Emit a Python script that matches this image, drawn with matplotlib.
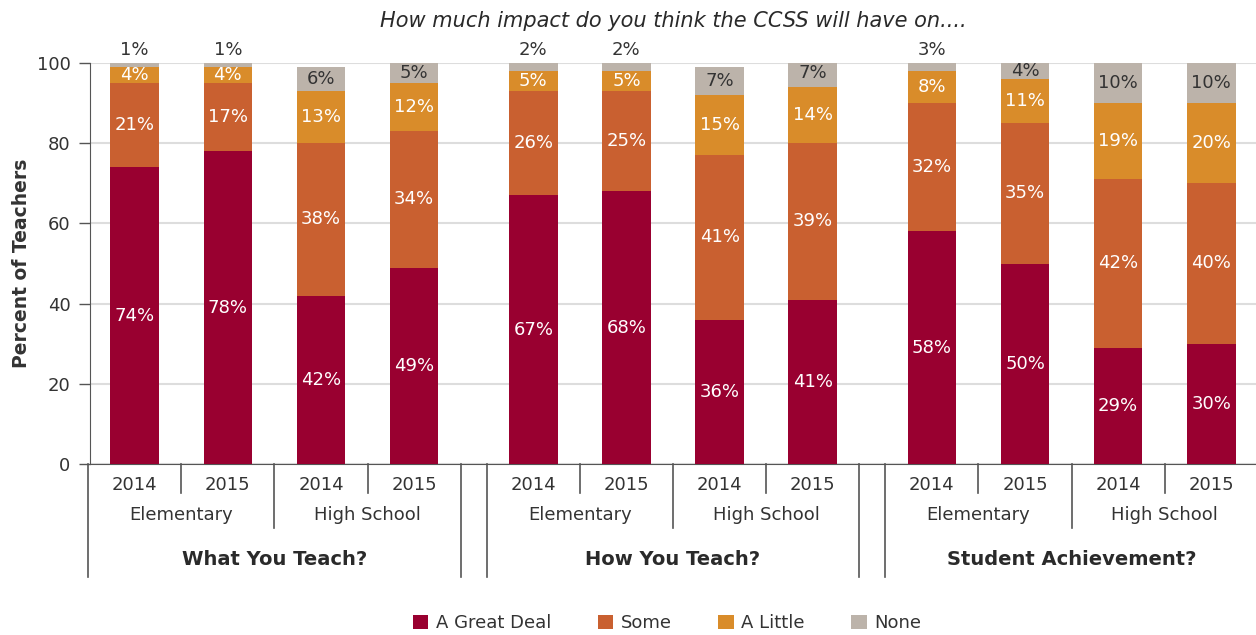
import matplotlib
matplotlib.use("Agg")
import matplotlib.pyplot as plt
import matplotlib.transforms as mtransforms
from matplotlib.patches import Patch
import numpy as np

plt.rcParams['font.family'] = ['DejaVu Sans']

# survey results, one entry per bar (3 questions x 2 levels x 2 years)
questions = ['What You Teach?', 'How You Teach?', 'Student Achievement?']
levels = ['Elementary', 'High School']
years = ['2014', '2015']

great_deal = [74, 78, 42, 49, 67, 68, 36, 41, 58, 50, 29, 30]
some = [21, 17, 38, 34, 26, 25, 41, 39, 32, 35, 42, 40]
a_little = [4, 4, 13, 12, 5, 5, 15, 14, 8, 11, 19, 20]
none = [1, 1, 6, 5, 2, 2, 7, 7, 3, 4, 10, 10]

series = [great_deal, some, a_little, none]
names = ['A Great Deal', 'Some', 'A Little', 'None']
colors = ['#990030', '#C96030', '#D98C2A', '#BCB3AA']
txt_colors = ['white', 'white', 'white', '#333333']

# bar positions: 4 bars per question, wider gap between questions
step = 1.0
gap = 1.28
x = []
for g in range(3):
    for i in range(4):
        x.append(g * (3 * step + gap) + i * step)
x = np.array(x)
width = 0.52

fig = plt.figure(figsize=(12.56, 6.35), dpi=100)
ax = fig.add_axes([90 / 1256, 1 - 464 / 635, 1166 / 1256, 401 / 635])

bottom = np.zeros(len(x))
for vals, col, tc in zip(series, colors, txt_colors):
    vals = np.array(vals, dtype=float)
    ax.bar(x, vals, width=width, bottom=bottom, color=col, zorder=3)
    for xi, b, v in zip(x, bottom, vals):
        if v >= 4:
            ax.text(xi, b + v / 2, '%d%%' % v, ha='center', va='center',
                    color=tc, fontsize=13, zorder=4)
        else:
            top = min(b + v, 100)
            ax.annotate('%d%%' % v, (xi, top), xytext=(0, 3),
                        textcoords='offset points', ha='center', va='bottom',
                        color='#333333', fontsize=13, annotation_clip=False)
    bottom += vals

ax.set_ylim(0, 100)
ax.set_xlim(x[0] - 0.48, x[-1] + 0.48)
ax.set_yticks([0, 20, 40, 60, 80, 100])
ax.set_xticks([])
ax.yaxis.grid(True, color='#DDDDDD', linewidth=1.5, zorder=0)
ax.set_axisbelow(True)
ax.tick_params(axis='y', length=8, width=1, color='#555555',
               labelsize=13, labelcolor='#333333', pad=6)
for s in ['top', 'right']:
    ax.spines[s].set_visible(False)
ax.spines['left'].set_color('#555555')
ax.spines['bottom'].set_color('#555555')
ax.set_ylabel('Percent of Teachers', fontsize=13.5, fontweight='bold',
              color='#333333', labelpad=4)

ax.set_title('How much impact do you think the CCSS will have on....',
             fontsize=15, style='italic', color='#2a2a2a', pad=26, x=0.5)

# multi-level category axis below the bars
trans = mtransforms.blended_transform_factory(ax.transData, ax.transAxes)
line_kw = dict(transform=trans, color='#555555', linewidth=1.2, clip_on=False)
for g in range(3):
    gx = x[g * 4:(g + 1) * 4]
    ax.plot([gx[0] - 0.5] * 2, [0, -0.282], **line_kw)
    ax.plot([gx[-1] + 0.5] * 2, [0, -0.282], **line_kw)
    ax.plot([gx[1] + 0.5] * 2, [0, -0.16], **line_kw)
    for k in range(2):
        ax.plot([gx[2 * k] + 0.5] * 2, [0, -0.072], **line_kw)
        ax.text((gx[2 * k] + gx[2 * k + 1]) / 2, -0.127, levels[k],
                transform=trans, ha='center', va='center', fontsize=13,
                color='#333333')
    for i in range(4):
        ax.text(gx[i], -0.052, years[i % 2], transform=trans, ha='center',
                va='center', fontsize=13, color='#333333')
    ax.text(gx.mean(), -0.239, questions[g], transform=trans, ha='center',
            va='center', fontsize=14, fontweight='bold', color='#2a2a2a')

handles = [Patch(facecolor=c, label=n) for c, n in zip(colors, names)]
fig.legend(handles=handles, loc='center', bbox_to_anchor=(0.531, 1 - 623 / 635),
           ncol=4, frameon=False, fontsize=13, handlelength=0.85,
           handleheight=0.85, handletextpad=0.4, columnspacing=2.6,
           labelcolor='#333333')

fig.savefig('out.png', dpi=100)
